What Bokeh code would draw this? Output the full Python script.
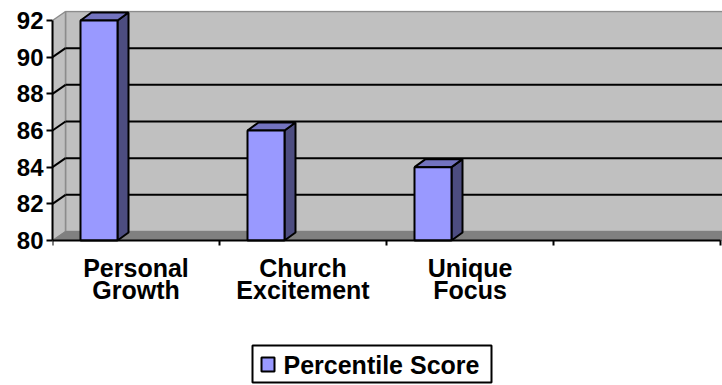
from bokeh.plotting import figure
from bokeh.models import Range1d, LinearAxis, FixedTicker
from bokeh.core.properties import value
from bokeh.embed import file_html
from bokeh.resources import INLINE

# Chart data
categories = ["Personal\nGrowth", "Church\nExcitement", "Unique\nFocus"]
scores = [92, 86, 84]
y_ticks = [80, 82, 84, 86, 88, 90, 92]
n_slots = 4                      # slots along the floor; the last one is empty
series_name = "Percentile Score"

# Canvas geometry (pixels)
W, H = 722, 385
LEFT, TOP = 52, 10
FLOOR_PX = 240                   # screen row of the value 80
SLOT_PX = 167.0                  # width of one category slot
UNIT_PX = 220.0 / 12.0           # pixels per score unit

y_lo, y_hi = y_ticks[0], y_ticks[-1]
x_end = (W - LEFT) / SLOT_PX
y_end = y_lo + (FLOOR_PX - TOP) / UNIT_PX
y_start = y_lo - (H - FLOOR_PX) / UNIT_PX


def sx(px):
    """screen column -> data x"""
    return (px - LEFT) / SLOT_PX


def sy(py):
    """screen row -> data y"""
    return y_lo - (py - FLOOR_PX) / UNIT_PX


# 3-D depth offsets, in data units
wall_dx, wall_dy = 13 / SLOT_PX, 9 / UNIT_PX
bar_dx, bar_dy = 11 / SLOT_PX, 8 / UNIT_PX
bar_off, bar_w = 28 / SLOT_PX, 37 / SLOT_PX

WALL = "#c0c0c0"
WALL_EDGE = "#8c8c8c"
FLOOR = "#808080"
FRONT, TOPC, SIDE = "#9999ff", "#7373bf", "#4d4d80"
FONT = "Liberation Sans"

p = figure(width=W, height=H, x_range=Range1d(0, x_end), y_range=Range1d(y_start, y_end),
           min_border_left=LEFT, min_border_right=0, min_border_top=TOP, min_border_bottom=0,
           x_axis_type=None, y_axis_type=None, toolbar_location=None, output_backend="svg")
p.outline_line_color = None
p.background_fill_color = "white"

far = x_end + 1
# back wall
p.quad(left=wall_dx, right=far, bottom=y_lo + wall_dy, top=y_hi + wall_dy,
       fill_color=WALL, line_color=WALL_EDGE, line_width=1.5)
# left side wall
p.patch([0, wall_dx, wall_dx, 0], [y_lo, y_lo + wall_dy, y_hi + wall_dy, y_hi],
        fill_color=WALL, line_color=WALL_EDGE, line_width=1.5)
# gridlines across the back and side walls
inner = y_ticks[1:-1]
p.segment(x0=[wall_dx] * len(inner), y0=[v + wall_dy for v in inner],
          x1=[far] * len(inner), y1=[v + wall_dy for v in inner],
          line_color="black", line_width=2)
p.segment(x0=[0] * len(inner), y0=inner, x1=[wall_dx] * len(inner),
          y1=[v + wall_dy for v in inner], line_color="black", line_width=2)
# floor
p.patch([0, wall_dx, far, far], [y_lo, y_lo + wall_dy, y_lo + wall_dy, y_lo],
        fill_color=FLOOR, line_color=FLOOR, line_width=1)

# bars: side face, top face, front face
lefts = [i + bar_off for i in range(len(scores))]
rights = [l + bar_w for l in lefts]
side_xs = [[r, r + bar_dx, r + bar_dx, r] for r in rights]
side_ys = [[y_lo, y_lo + bar_dy, v + bar_dy, v] for v in scores]
top_xs = [[l, l + bar_dx, r + bar_dx, r] for l, r in zip(lefts, rights)]
top_ys = [[v, v + bar_dy, v + bar_dy, v] for v in scores]
p.patches(side_xs, side_ys, fill_color=SIDE, line_color="black", line_width=2)
p.patches(top_xs, top_ys, fill_color=TOPC, line_color="black", line_width=2)
p.quad(left=lefts, right=rights, bottom=y_lo, top=scores,
       fill_color=FRONT, line_color="black", line_width=2)

# value axis
yaxis = LinearAxis(ticker=FixedTicker(ticks=y_ticks), bounds=(y_lo, y_hi),
                   axis_line_width=2, axis_line_color="black",
                   major_tick_out=6, major_tick_in=0, major_tick_line_width=2,
                   minor_tick_out=0, minor_tick_in=0, major_label_standoff=3,
                   major_label_text_font=FONT, major_label_text_font_style="bold",
                   major_label_text_font_size="24px", major_label_text_color="black")
p.add_layout(yaxis, "left")

# category axis sitting on the floor edge
centers = [i + 0.5 for i in range(len(categories))]
xaxis = LinearAxis(fixed_location=y_lo,
                   ticker=FixedTicker(ticks=centers, minor_ticks=list(range(n_slots + 1))),
                   bounds=(0, n_slots),
                   major_label_overrides={c: lab for c, lab in zip(centers, categories)},
                   axis_line_width=2, axis_line_color="black",
                   major_tick_out=0, major_tick_in=0,
                   minor_tick_out=5, minor_tick_in=0, minor_tick_line_width=2,
                   major_label_standoff=8, major_label_text_line_height=0.8,
                   major_label_text_font=FONT, major_label_text_font_style="bold",
                   major_label_text_font_size="25px", major_label_text_color="black")
p.add_layout(xaxis, "below")

# legend box with swatch and series name
p.quad(left=sx(252), right=sx(491), top=sy(345), bottom=sy(382),
       fill_color="white", line_color="black", line_width=2)
p.quad(left=sx(261), right=sx(274), top=sy(357), bottom=sy(371),
       fill_color=FRONT, line_color="black", line_width=2)
p.text(x=[sx(283)], y=[sy(364)], text=[series_name],
       text_font=value(FONT), text_font_style="bold", text_font_size="25px",
       text_color="black", text_baseline="middle", text_align="left")

open("out.html", "w").write(file_html(p, INLINE))
